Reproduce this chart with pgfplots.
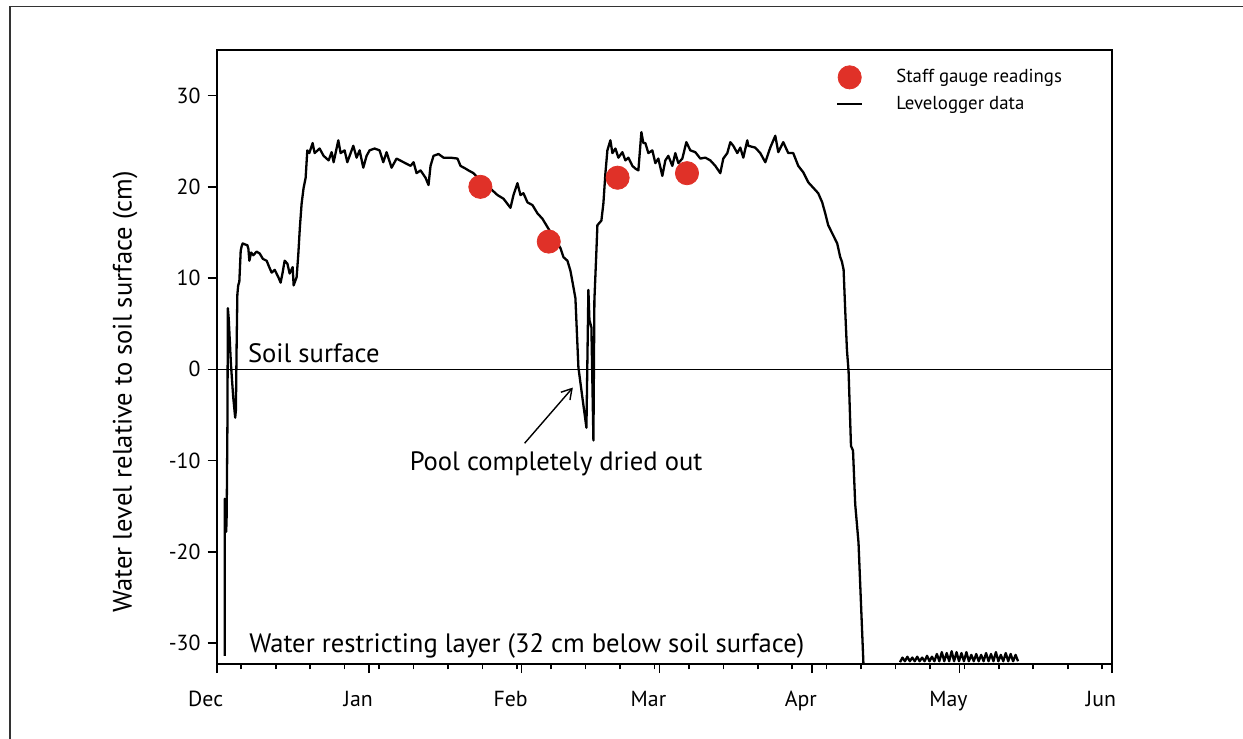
\documentclass[border=0pt]{standalone}
\usepackage{fontspec}
\setmainfont{PT Sans}
\usepackage{pgfplots}
\pgfplotsset{compat=1.18}
\usetikzlibrary{arrows.meta}
\definecolor{gauge}{RGB}{224,49,40}

% days counted from 1 December
\pgfplotstableread{
day level
1.62 -31.4
1.62 -14.2
1.83 -14.6
1.93 -17.8
2.03 -16.0
2.18 -6.0
2.27 6.7
2.45 5.5
2.9 0.5
3.35 -3.0
3.76 -5.3
3.9 -4.5
4.06 3.0
4.2 8.2
4.37 9.2
4.6 9.6
4.88 13.0
5.08 13.5
5.28 13.8
5.69 13.7
6.24 13.6
6.44 13.2
6.64 11.9
7.0 12.8
7.45 12.5
8.1 12.9
8.73 12.7
9.4 12.1
10.16 11.9
10.6 11.3
11.17 10.6
11.8 10.9
12.53 10.1
13.0 9.5
13.4 10.6
13.81 11.9
14.36 11.6
14.83 10.5
15.44 11.2
15.64 9.2
16.25 10.1
16.6 12.7
16.9 15.5
17.27 18.2
17.67 19.9
18.08 21.0
18.42 24.0
18.83 23.7
19.5 24.8
19.91 23.7
20.92 24.2
21.73 23.4
22.75 22.9
23.36 23.8
23.77 22.7
24.72 25.1
25.19 23.7
26.0 24.0
26.55 22.7
27.77 24.5
28.44 23.2
29.05 24.0
29.8 22.1
30.47 23.4
31.08 24.0
32.09 24.2
33.11 24.0
33.86 22.7
34.53 23.8
35.55 22.1
36.56 23.1
37.98 22.7
39.41 22.3
40.02 22.7
40.63 21.5
41.44 21.8
42.45 21.0
43.06 20.2
43.47 22.3
44.08 23.4
45.09 23.6
46.11 23.2
47.53 23.2
48.95 23.1
49.56 22.3
50.58 22.0
51.19 21.8
52.2 21.5
53.22 20.9
54.44 20.3
55.66 19.8
57.08 19.1
58.3 18.7
59.72 17.7
60.33 19.1
61.14 20.4
61.75 19.1
62.36 19.3
63.17 18.3
64.19 18.0
65.2 17.1
66.22 16.5
67.23 15.6
68.45 14.5
69.87 13.3
70.48 12.3
71.3 11.9
71.91 10.8
72.52 9.0
72.92 7.8
73.53 0.2
74.34 -3.1
75.16 -6.4
75.56 8.7
75.77 5.4
76.17 4.6
76.58 -7.8
76.78 7.6
77.19 13.0
77.39 15.8
78.2 16.3
78.61 18.2
79.02 21.5
79.42 24.0
80.03 25.1
80.44 23.7
81.05 24.2
81.66 23.2
82.47 23.8
83.08 22.9
83.69 23.2
84.5 22.3
85.11 22.0
85.72 21.8
86.33 26.0
86.73 24.8
87.14 24.8
87.75 23.7
88.56 24.0
89.17 22.6
89.78 23.1
90.59 21.2
91.2 22.9
91.81 23.4
92.62 22.3
93.23 23.7
93.84 22.6
94.66 23.1
95.47 24.9
96.28 24.0
97.3 23.8
98.31 23.1
99.33 23.2
100.34 22.9
101.36 22.3
102.37 21.5
102.98 23.1
103.8 23.7
104.41 24.9
105.02 24.5
105.83 23.7
106.44 24.3
107.05 23.2
107.86 25.1
108.06 24.5
109.48 24.3
110.5 23.7
111.52 22.7
112.53 24.3
113.55 25.6
114.16 23.8
115.17 24.9
116.19 23.7
117.2 23.7
118.22 22.3
119.23 21.6
120.25 20.5
121.27 19.9
122.28 19.3
123.09 18.3
123.7 17.1
124.31 15.8
125.13 14.9
126.14 13.8
126.75 12.3
127.1 11.8
127.44 10.9
127.78 6.3
128.12 2.1
128.45 -0.2
128.94 -8.4
129.35 -8.9
129.8 -14.8
130.47 -19.0
131.48 -32.4
131.62 -34.0
}\logger

\pgfplotstableread{
day level
138.9 -32.1
139.4 -31.6
139.9 -32.0
140.4 -31.5
140.9 -32.0
141.4 -31.6
141.9 -32.0
142.4 -31.5
142.9 -32.0
143.4 -31.6
143.9 -32.0
144.4 -31.4
144.9 -32.0
145.4 -31.5
145.9 -32.0
146.4 -31.2
146.9 -32.0
147.4 -31.0
147.9 -32.0
148.4 -31.1
148.9 -32.0
149.4 -30.9
149.9 -32.0
150.4 -31.0
150.9 -32.0
151.4 -31.1
151.9 -32.0
152.4 -31.0
152.9 -32.0
153.4 -31.3
153.9 -32.0
154.4 -31.2
154.9 -32.0
155.4 -31.3
155.9 -32.0
156.4 -31.1
156.9 -32.0
157.4 -31.2
157.9 -32.0
158.4 -31.0
158.9 -32.0
159.4 -31.3
159.9 -32.0
160.4 -31.1
160.9 -32.0
161.4 -31.2
161.9 -32.0
162.4 -31.3
162.9 -32.0
}\loggermay

\pgfplotstableread{
day level
53.6 20.0
67.5 14.0
81.5 21.0
95.6 21.5
}\gauge

\begin{document}
\begin{tikzpicture}
\useasboundingbox (0,0) rectangle (621.5pt,369.5pt);
\draw[line width=0.7pt, black!80] (5pt,0pt) -- (5pt,366.2pt) -- (621.5pt,366.2pt);
\node[rotate=90, inner sep=0pt, font=\fontsize{13.3}{15}\selectfont] at (62.5pt,173.5pt)
  {Water level relative to soil surface (cm)};
\begin{axis}[
    at={(108.35pt,37.5pt)}, anchor=south west,
    scale only axis,
    width=447.65pt, height=307pt,
    xmin=0, xmax=182,
    ymin=-32.3, ymax=35,
    axis line style={line width=0.8pt},
    tick style={line width=0.8pt, black},
    tick align=outside,
    major tick length=4.6pt,
    minor tick length=2.7pt,
    xtick pos=lower, ytick pos=left,
    xtick={0,31,62,90,121,151,182},
    xticklabels={Dec,Jan,Feb,Mar,Apr,May,Jun},
    minor xtick={5,12,...,180},
    ytick={-30,-20,-10,0,10,20,30},
    yticklabels={-30,-20,-10,0,10,20,30},
    tick label style={font=\fontsize{10.9}{12}\selectfont},
    xticklabel style={xshift=-5.5pt, yshift=-5.5pt},
    reverse legend,
    legend cell align=left,
    legend style={
        at={(rel axis cs:0.6917,0.975)},
        anchor=north west,
        draw=none, fill=none,
        font=\fontsize{9.4}{11}\selectfont,
        inner sep=0pt,
        row sep=3.5pt,
        nodes={inner sep=0pt},
    },
]
\draw[line width=0.6pt] (axis cs:0,0) -- (axis cs:182,0);

\addplot[black, line width=1.15pt, line join=round,
    legend image code/.code={\draw[black, line width=0.8pt] (0pt,0pt) -- (12.5pt,0pt); \path (29pt,0pt);}]
    table[x=day, y=level] {\logger};
\addlegendentry{Levelogger data}

\addplot[black, line width=1.15pt, line join=round, forget plot]
    table[x=day, y=level] {\loggermay};

\addplot[only marks, mark=*, mark size=5.8pt,
    mark options={draw=gauge, fill=gauge},
    legend image code/.code={\draw[mark=*, mark size=5.8pt, mark options={draw=gauge, fill=gauge}] plot coordinates {(6.25pt,0pt)}; \path (29pt,0pt);}]
    table[x=day, y=level] {\gauge};
\addlegendentry{Staff gauge readings}

\node[anchor=base west, inner sep=0pt, font=\fontsize{13.3}{15}\selectfont] at (axis cs:6.3,0.8) {Soil surface};
\node[anchor=base west, inner sep=0pt, font=\fontsize{13.3}{15}\selectfont] at (axis cs:6.56,-31.0)
  {Water restricting layer (32 cm below soil surface)};
\node[anchor=base, inner sep=0pt, font=\fontsize{13.3}{15}\selectfont] at (axis cs:69.0,-11.05)
  {Pool completely dried out};
\draw[line width=0.7pt, -{Straight Barb[length=5pt, width=6pt]}]
  (axis cs:62.6,-8.1) -- (axis cs:72.4,-2.0);
\end{axis}
\end{tikzpicture}
\end{document}
